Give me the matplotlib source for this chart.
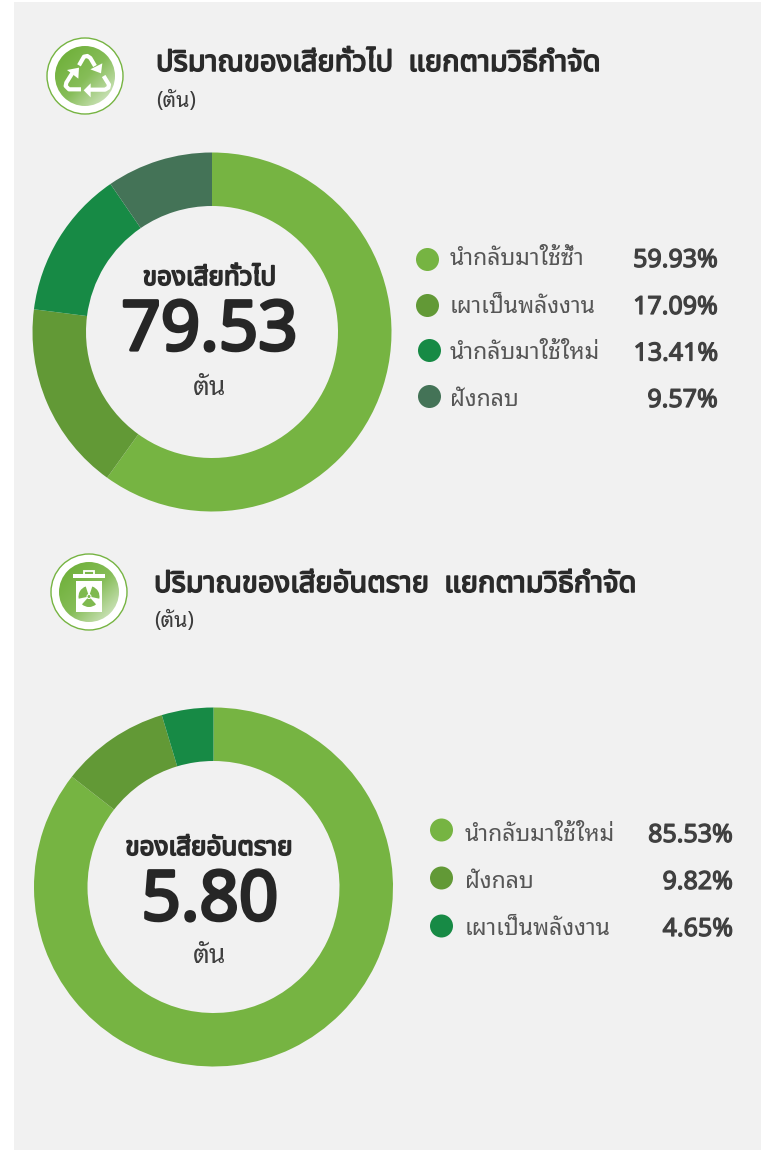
import numpy as np
import matplotlib
matplotlib.use("Agg")
import matplotlib.pyplot as plt
import matplotlib.patheffects as pe
from matplotlib.patches import Circle, Polygon, Rectangle, Wedge
from matplotlib.colors import LinearSegmentedColormap

### DATA ###

general_title = "ปริมาณของเสียทั่วไป  แยกตามวิธีกำจัด"
general_center = "ของเสียทั่วไป"
general_total = "79.53"
general_labels = ["นำกลับมาใช้ซ้ำ", "เผาเป็นพลังงาน", "นำกลับมาใช้ใหม่", "ฝังกลบ"]
general_values = [59.93, 17.09, 13.41, 9.57]

hazard_title = "ปริมาณของเสียอันตราย  แยกตามวิธีกำจัด"
hazard_center = "ของเสียอันตราย"
hazard_total = "5.80"
hazard_labels = ["นำกลับมาใช้ใหม่", "ฝังกลบ", "เผาเป็นพลังงาน"]
hazard_values = [85.53, 9.82, 4.65]

unit = "ตัน"

### SETUPS ###

W, H = 761, 1150
THAI_HEAD = ["Noto Sans Thai", "Noto Sans", "DejaVu Sans"]
THAI_BODY = ["Noto Sans Thai Looped", "Noto Sans", "DejaVu Sans"]
NUMS = ["Noto Sans", "Open Sans", "DejaVu Sans"]

LIGHT = "#76b442"
MID = "#629936"
DARK = "#178a45"
GREY = "#447357"
general_colors = [LIGHT, MID, DARK, GREY]
hazard_colors = [LIGHT, MID, DARK]

fig = plt.figure(figsize=(W / 100, H / 100), dpi=100, facecolor="white")
ax = fig.add_axes([0, 0, 1, 1])
ax.set_xlim(0, W)
ax.set_ylim(H, 0)
ax.axis("off")

ax.add_patch(Rectangle((14, 2), W - 14, H - 2, fc="#f1f1f1", ec="none", zorder=0))

grad_cmap = LinearSegmentedColormap.from_list("icon", ["#6fb03a", "#86bd58", "#d8e9ca"])

### FUNCTIONS ###

def px(v): # pixels to points
    return v * 0.72

def bold_text(x, y, s, size, family, color="#2a2a2a", stroke=1.0, ha="left"): # these fonts have no bold cut here
    t = ax.text(x, y, s, fontsize=px(size), family=family, color=color, ha=ha, va="baseline", zorder=5)
    t.set_path_effects([pe.withStroke(linewidth=stroke, foreground=color)])
    return t

def donut(cx, cy, r, inner, values, colors):
    pad = 1.01
    a = fig.add_axes([(cx - r * pad) / W, 1 - (cy + r * pad) / H, 2 * r * pad / W, 2 * r * pad / H])
    a.pie(values, colors=colors, startangle=90, counterclock=False, radius=1,
          wedgeprops={"width": 1 - inner / r, "edgecolor": "none"})
    a.set_xlim(-pad, pad)
    a.set_ylim(-pad, pad)
    a.axis("off")

def legend(dots_x, text_x, right_x, dot_ys, label_ys, pct_ys, labels, values, colors):
    for dx, dy, ly, py, lab, val, col in zip(dots_x, dot_ys, label_ys, pct_ys, labels, values, colors):
        ax.add_patch(Circle((dx, dy), 11.5, fc=col, ec="none", zorder=4))
        ax.text(text_x, ly, lab, fontsize=px(23), family=THAI_BODY, color="#565656", va="baseline", zorder=5)
        bold_text(right_x, py, f"{val:.2f}%", 25, NUMS, color="#404040", stroke=0.9, ha="right")

def icon_base(cx, cy):
    ax.add_patch(Circle((cx, cy), 38, fc="white", ec="#76b442", lw=1.0, zorder=2))
    g = np.linspace(0, 1, 128)
    grad = (g[None, :] + g[:, None]) / 2
    im = ax.imshow(grad, extent=(cx - 30, cx + 30, cy + 30, cy - 30), cmap=grad_cmap, zorder=3,
                   vmin=0.1, vmax=0.95, aspect="auto")
    im.set_clip_path(Circle((cx, cy), 30, transform=ax.transData))
    ax.set_xlim(0, W)
    ax.set_ylim(H, 0)

def recycle_icon():
    icon_base(85, 76)
    z = lambda pts: [(45 + p[0] / 3, 36 + p[1] / 3) for p in pts]
    lines = [
        [(102, 88), (117, 62), (127, 60), (136, 66), (150, 90)],
        [(108, 160), (72, 160), (62, 150), (64, 140), (84, 108)],
        [(176, 120), (192, 146), (190, 155), (180, 161), (132, 161)],
    ]
    heads = [
        [(136, 100), (172, 82), (168, 112)],
        [(66, 102), (102, 95), (100, 128)],
        [(116, 163), (137, 142), (137, 184)],
    ]
    for ln in lines:
        xy = np.array(z(ln))
        ax.plot(xy[:, 0], xy[:, 1], color="white", lw=3.0, solid_capstyle="butt", solid_joinstyle="round", zorder=4)
    for hd in heads:
        ax.add_patch(Polygon(z(hd), fc="white", ec="none", zorder=4))

def trash_icon():
    cx, cy = 89, 592
    icon_base(cx, cy)
    ax.add_patch(Rectangle((73.3, 574.3), 32, 4, fc="white", ec="none", zorder=4))
    ax.add_patch(Rectangle((84, 571), 10, 3.5, fc="none", ec="white", lw=1.3, zorder=4))
    ax.add_patch(Rectangle((75.7, 580.7), 26.6, 31, fc="white", ec="none", zorder=4))
    for ang in (90, 210, 330): # three lobes of the trefoil, y axis points down
        ax.add_patch(Wedge((cx, 596.5), 10.5, ang - 42, ang + 42, width=8, fc="#7fb94f", ec="none", zorder=5))
    ax.add_patch(Circle((cx, 596.5), 1.5, fc="#7fb94f", ec="none", zorder=5))

### FIRST BLOCK ###

recycle_icon()
bold_text(156, 71, general_title, 29.1, THAI_HEAD, stroke=1.1)
ax.text(156.5, 107, f"({unit})", fontsize=px(21.5), family=THAI_BODY, color="#3c3c3c", zorder=5)

donut(212, 332, 179.5, 126, general_values, general_colors)
bold_text(209.5, 285, general_center, 26, THAI_HEAD, stroke=1.2, ha="center")
bold_text(209.5, 350, general_total, 69, NUMS, color="#262626", stroke=2.3, ha="center")
ax.text(210, 395, unit, fontsize=px(26.5), family=THAI_BODY, color="#404040", ha="center", zorder=5)

legend([427.5, 427.5, 429.5, 429.5], 450, 718, [259.5, 305.5, 350.5, 396.5], [265, 313, 359, 406], [267, 314, 360.5, 407],
       general_labels, general_values, general_colors)

### SECOND BLOCK ###

trash_icon()
bold_text(154, 592, hazard_title, 29.1, THAI_HEAD, stroke=1.1)
ax.text(154, 627, f"({unit})", fontsize=px(21.5), family=THAI_BODY, color="#3c3c3c", zorder=5)

donut(213.5, 887, 179.5, 126, hazard_values, hazard_colors)
bold_text(209, 855, hazard_center, 26, THAI_HEAD, stroke=1.2, ha="center")
bold_text(210, 920, hazard_total, 69, NUMS, color="#262626", stroke=2.3, ha="center")
ax.text(209.5, 963, unit, fontsize=px(26.5), family=THAI_BODY, color="#404040", ha="center", zorder=5)

legend([441.5, 441.5, 441.5], 465, 733, [830, 878, 926], [841, 888, 935], [842, 889, 936],
       hazard_labels, hazard_values, hazard_colors)

fig.savefig("out.png", dpi=100)
